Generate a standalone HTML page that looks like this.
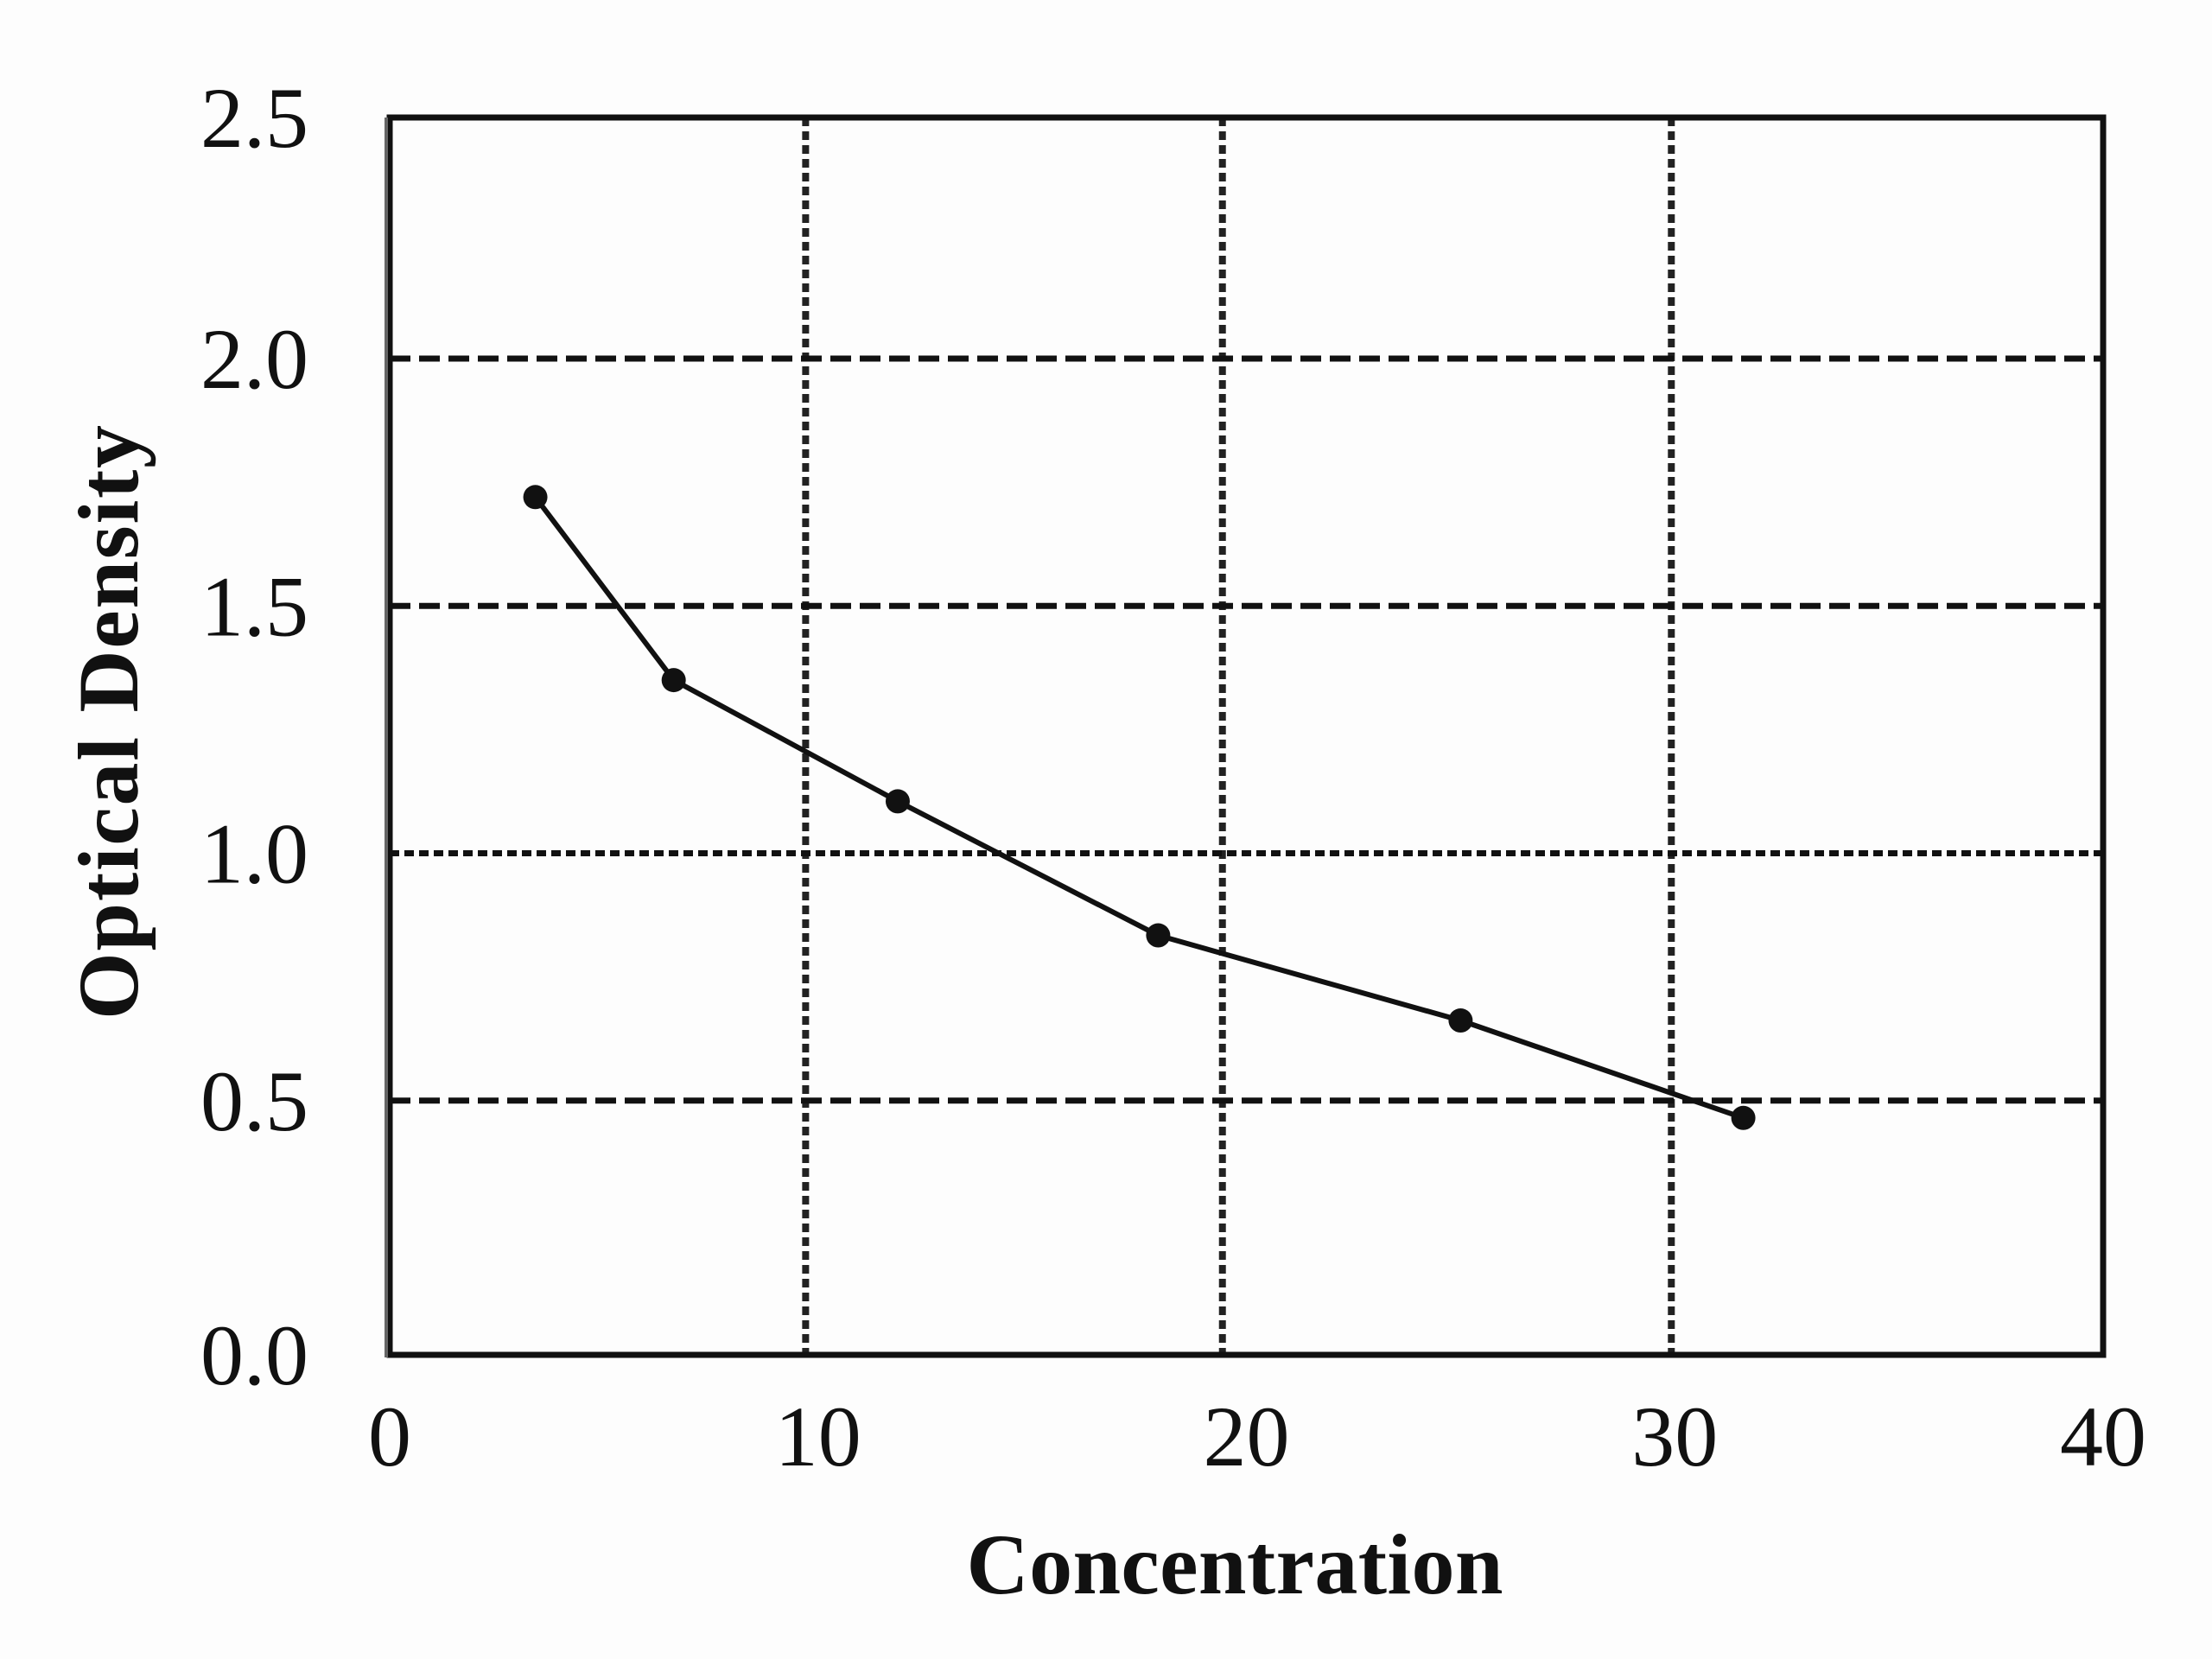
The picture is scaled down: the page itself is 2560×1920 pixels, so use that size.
<!DOCTYPE html>
<html><head><meta charset="utf-8"><style>
html,body{margin:0;padding:0;background:#fdfdfd;}
svg{display:block;}
text{font-family:"Liberation Serif",serif;fill:#111;}
</style></head><body>
<svg id="chart" width="2560" height="1920" viewBox="0 0 2560 1920" xmlns="http://www.w3.org/2000/svg">
<rect x="0" y="0" width="2560" height="1920" fill="#fdfdfd"/>
<g id="grid"></g>
<g id="axes"></g>
<g id="series"></g>
<text x="1429" y="1844" text-anchor="middle" font-size="100" font-weight="bold" textLength="621">Concentration</text>
<text transform="translate(159,836) rotate(-90)" text-anchor="middle" font-size="100" font-weight="bold" textLength="688">Optical Density</text>
</svg>
<script>
const xValues = [3.4, 6.63, 11.86, 17.94, 25.0, 31.6];
const yValues = [1.72, 1.35, 1.105, 0.834, 0.662, 0.465];
const xTicks = [0, 10, 20, 30, 40];
const xTickLabels = ["0", "10", "20", "30", "40"];
const yTicks = [0, 0.5, 1.0, 1.5, 2.0, 2.5];
const yTickLabels = ["0.0", "0.5", "1.0", "1.5", "2.0", "2.5"];
const xGrid = [9.71, 19.44, 29.92];
const yGrid = [0.5, 1.0, 1.5, 2.0];

const NS = "http://www.w3.org/2000/svg";
const X0 = 451, X1 = 2434, Y0 = 1560, YPU = 572.5;
const FRAME_TOP = 136, FRAME_BOTTOM = 1568;
function sx(v){ return X0 + (X1 - X0) * v / 40; }
function sy(v){ return Y0 - YPU * v; }
function mk(tag, attrs, parent){
  const e = document.createElementNS(NS, tag);
  for (const k in attrs) e.setAttribute(k, attrs[k]);
  parent.appendChild(e);
  return e;
}
const grid = document.getElementById('grid');
const axes = document.getElementById('axes');
const series = document.getElementById('series');

xGrid.forEach(v => {
  const l = mk('line', {x1: sx(v), x2: sx(v), y1: FRAME_TOP, y2: FRAME_BOTTOM, stroke: '#222', 'stroke-width': 8, 'stroke-dasharray': '10 6'}, grid);
  
  
});
yGrid.forEach(v => {
  const l = mk('line', {x1: X0, x2: X1, y1: sy(v), y2: sy(v), stroke: '#111', 'stroke-width': 7, 'stroke-dasharray': v === 1.0 ? '11 6' : '24 10'}, grid);
  
  
});

const frame = mk('rect', {x: X0, y: FRAME_TOP, width: X1 - X0, height: FRAME_BOTTOM - FRAME_TOP, fill: 'none', stroke: '#111', 'stroke-width': 7}, axes);


const leftAxis = mk('line', {x1: X0 - 4, x2: X0 - 4, y1: FRAME_TOP, y2: FRAME_BOTTOM + 3, stroke: '#666', 'stroke-width': 4}, axes);



xTicks.forEach((v, i) => {
  const t = mk('text', {x: sx(v), y: 1696, 'text-anchor': 'middle', 'font-size': 100}, axes);
  t.textContent = xTickLabels[i];
  
  
});
yTicks.forEach((v, i) => {
  const t = mk('text', {x: 357, y: (i === yTicks.length - 1 ? FRAME_TOP : (i === 0 ? FRAME_BOTTOM : sy(v))) + 34, 'text-anchor': 'end', 'font-size': 100}, axes);
  t.textContent = yTickLabels[i];
  
  
});

const pts = xValues.map((x, i) => sx(x) + ',' + sy(yValues[i])).join(' ');
const line = mk('polyline', {points: pts, fill: 'none', stroke: '#111', 'stroke-width': 6, 'stroke-linejoin': 'round'}, series);


xValues.forEach((x, i) => {
  const c = mk('circle', {cx: sx(x), cy: sy(yValues[i]), r: 14, fill: '#111'}, series);
  
  
});
</script>
</body></html>
